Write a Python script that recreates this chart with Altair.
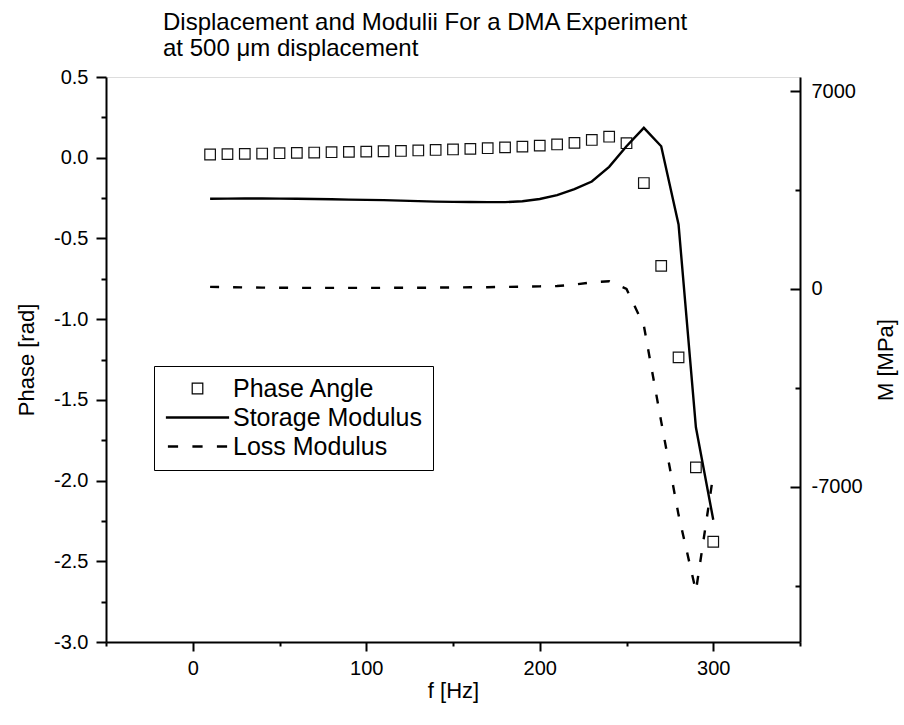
import altair as alt
import pandas as pd

FONT = "Liberation Sans"

freq = [10, 20, 30, 40, 50, 60, 70, 80, 90, 100, 110, 120, 130, 140, 150,
        160, 170, 180, 190, 200, 210, 220, 230, 240, 250, 260, 270, 280, 290, 300]
phase = [0.020, 0.022, 0.024, 0.026, 0.028, 0.030, 0.032, 0.034, 0.036, 0.038,
         0.040, 0.042, 0.045, 0.048, 0.051, 0.055, 0.059, 0.064, 0.069, 0.075,
         0.082, 0.092, 0.110, 0.130, 0.090, -0.157, -0.670, -1.237, -1.918, -2.379]
storage = [3190, 3195, 3200, 3200, 3195, 3190, 3180, 3170, 3160, 3150,
           3140, 3125, 3105, 3090, 3080, 3075, 3070, 3070, 3100, 3180,
           3320, 3530, 3800, 4320, 5050, 5700, 5050, 2280, -4900, -8170]
loss = [70, 60, 50, 45, 40, 35, 35, 35, 35, 35,
        35, 40, 40, 45, 50, 55, 60, 70, 80, 90,
        100, 150, 230, 270, 0, -1300, -4700, -8000, -10700, -6580]

series_names = ["Phase Angle", "Storage Modulus", "Loss Modulus"]
x_ticks = [-50, 0, 50, 100, 150, 200, 250, 300, 350]
left_ticks = [-3.0, -2.75, -2.5, -2.25, -2.0, -1.75, -1.5, -1.25, -1.0,
              -0.75, -0.5, -0.25, 0.0, 0.25, 0.5]
right_ticks = [-10500, -7000, -3500, 0, 3500, 7000]
title_lines = ["Displacement and Modulii For a DMA Experiment",
               "at 500 \u03bcm displacement"]

W, H = 694, 565

phase_df = pd.DataFrame({"f": freq, "value": phase, "series": series_names[0]})
storage_df = pd.DataFrame({"f": freq, "value": storage, "series": series_names[1]})
loss_df = pd.DataFrame({"f": freq, "value": loss, "series": series_names[2]})

# legend symbol paths (unit box, scaled by sqrt(size)/2)
solid_path = "M-5.86,-0.11H5.86V0.11H-5.86Z"
dash_path = ("M-5.48,-0.11H-3.78V0.11H-5.48Z "
             "M-0.85,-0.11H0.85V0.11H-0.85Z "
             "M3.78,-0.11H5.48V0.11H3.78Z")

common_axis = dict(grid=False, domainColor="black", domainWidth=2, tickColor="black",
                   tickWidth=2, labelFont=FONT, labelFontSize=20, labelColor="black",
                   titleFont=FONT, titleFontSize=22, titleFontWeight="normal",
                   titleColor="black")

x_axis = alt.Axis(
    title="f [Hz]", values=x_ticks, orient="bottom",
    labelExpr="datum.value % 100 == 0 ? datum.label : ''",
    tickSize={"condition": {"test": "datum.value % 100 == 0", "value": 9}, "value": 4},
    labelPadding=7, titlePadding=2, **common_axis)
x_enc = alt.X("f:Q", scale=alt.Scale(domain=[-50, 350], nice=False, zero=False), axis=x_axis)

left_axis = alt.Axis(
    title="Phase [rad]", values=left_ticks, orient="left",
    labelExpr="abs(datum.value*2 - round(datum.value*2)) < 0.001 ? "
              "(datum.value < 0 ? '-' : '') + format(abs(datum.value), '.1f') : ''",
    tickSize={"condition": {"test": "abs(datum.value*2 - round(datum.value*2)) < 0.001",
                            "value": 10}, "value": 5},
    labelPadding=8, titleX=-68, titleY=H / 2, **common_axis)

right_axis = alt.Axis(
    title="M [MPa]", values=right_ticks, orient="left", offset=-W,
    labelAlign="left",
    labelExpr="datum.value % 7000 == 0 ? (datum.value < 0 ? '-' : '') + "
              "format(abs(datum.value), 'd') : ''",
    tickSize={"condition": {"test": "datum.value % 7000 == 0", "value": 10}, "value": 5},
    labelPadding=-21, titleX=97, titleY=H / 2, **common_axis)

legend = alt.Legend(
    title=None, orient="none", legendX=48, legendY=289, direction="vertical",
    padding=10, strokeColor="black", fillColor="white",
    symbolSize=112, symbolStrokeWidth=1.2, symbolStrokeColor="black",
    symbolFillColor="transparent", symbolOffset=21, labelOffset=23,
    labelFont=FONT, labelFontSize=25, labelColor="black", rowPadding=3, labelLimit=400)

points = alt.Chart(phase_df).mark_point(
    filled=False, size=112, color="#111111", strokeWidth=1.2, opacity=1
).encode(
    x=x_enc,
    y=alt.Y("value:Q", scale=alt.Scale(domain=[-3.0, 0.5], nice=False, zero=False),
            axis=left_axis),
    shape=alt.Shape("series:N",
                    scale=alt.Scale(domain=series_names,
                                    range=["square", solid_path, dash_path]),
                    legend=legend),
)

y_right = alt.Y("value:Q", scale=alt.Scale(domain=[-12500, 7500], nice=False, zero=False),
                axis=right_axis)

storage_line = alt.Chart(storage_df).mark_line(
    color="black", strokeWidth=2.4
).encode(x=x_enc, y=y_right)

loss_line = alt.Chart(loss_df).mark_line(
    color="black", strokeWidth=2.4, strokeDash=[9, 14]
).encode(x=x_enc, y=y_right)

moduli = alt.layer(storage_line, loss_line)

chart = alt.layer(points, moduli).resolve_scale(y="independent").properties(
    width=W, height=H,
    title=alt.TitleParams(text=title_lines, anchor="start", frame="group", dx=57,
                          fontSize=24, font=FONT, fontWeight="normal",
                          lineHeight=26, offset=6, color="black"),
    autosize=alt.AutoSizeParams(type="none"),
    padding={"left": 106, "top": 77, "right": 904 - 106 - W, "bottom": 725 - 77 - H},
).configure_view(stroke="transparent").configure(background="white")

chart.save("out.html", embed_options={"renderer": "svg", "actions": False})
